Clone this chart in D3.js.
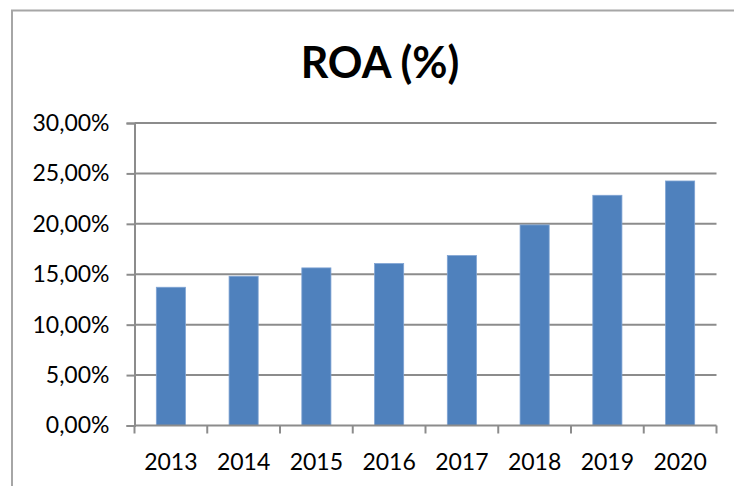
<!DOCTYPE html>
<html>
<head>
<meta charset="utf-8">
<script src="https://cdn.jsdelivr.net/npm/d3@7"></script>
<style>
html,body{margin:0;padding:0;background:#fff;}
svg{display:block;}
</style>
</head>
<body>
<script>
const categories = ["2013","2014","2015","2016","2017","2018","2019","2020"];
const roaValues = [13.71, 14.80, 15.63, 16.06, 16.85, 19.89, 22.83, 24.25];
const yTicks = [0, 5, 10, 15, 20, 25, 30];
const titleText = "ROA (%)";

const W = 734, H = 486;
const margin = {left: 134.5, right: W - 716.5, top: 123, bottom: H - 425.5};
const FONT = "Lato, 'Open Sans', sans-serif";

const svg = d3.select("body").append("svg").attr("width", W).attr("height", H);

// outer frame (extends beyond window on right/bottom)
svg.append("rect").attr("x", 12).attr("y", 10.5).attr("width", W + 20).attr("height", H + 20)
  .attr("fill", "#fff").attr("stroke", "#a6a6a6").attr("stroke-width", 2);

const x = d3.scaleBand().domain(categories).range([margin.left, W - margin.right]).paddingInner(0.6).paddingOuter(0.3);
const y = d3.scaleLinear().domain([0, 30]).range([H - margin.bottom, margin.top]);

// gridlines
svg.append("g").selectAll("line").data(yTicks.filter(d => d > 0)).join("line")
  .attr("x1", margin.left).attr("x2", W - margin.right)
  .attr("y1", d => y(d)).attr("y2", d => y(d))
  .attr("stroke", "#8c8c8c").attr("stroke-width", 2);

// bars
svg.append("g").selectAll("rect").data(categories).join("rect")
  .attr("x", (d) => x(d)).attr("width", x.bandwidth())
  .attr("y", (d, i) => y(roaValues[i]))
  .attr("height", (d, i) => y(0) - y(roaValues[i]))
  .attr("fill", "#4f81bd").attr("stroke", "#7fa3d3").attr("stroke-width", 0.8);

// y axis
const yAxis = d3.axisLeft(y).tickValues(yTicks).tickSize(8).tickPadding(17)
  .tickFormat(d => d3.format(".2f")(d).replace(".", ",") + "%");
const gy = svg.append("g").attr("transform", `translate(${margin.left},0)`).call(yAxis);
gy.select(".domain").attr("stroke", "#8c8c8c").attr("stroke-width", 2);
gy.selectAll(".tick line").attr("stroke", "#8c8c8c").attr("stroke-width", 2);
gy.selectAll(".tick text").attr("font-family", FONT).attr("font-size", 23).attr("fill", "#000");

// x axis with ticks at band boundaries
const xBoundary = d3.scaleLinear().domain([0, categories.length]).range([margin.left, W - margin.right]);
const gx = svg.append("g").attr("transform", `translate(0,${y(0)})`);
gx.append("line").attr("x1", margin.left).attr("x2", W - margin.right).attr("stroke", "#8c8c8c").attr("stroke-width", 2);
gx.selectAll("line.tk").data(d3.range(categories.length + 1)).join("line").attr("class", "tk")
  .attr("x1", d => xBoundary(d)).attr("x2", d => xBoundary(d)).attr("y1", 0).attr("y2", 8)
  .attr("stroke", "#8c8c8c").attr("stroke-width", 2);
gx.selectAll("text").data(categories).join("text")
  .attr("x", d => x(d) + x.bandwidth() / 2).attr("y", 44)
  .attr("text-anchor", "middle").attr("font-family", FONT).attr("font-size", 23).attr("fill", "#000")
  .text(d => d);

// title
svg.append("text").attr("x", 380).attr("y", 78).attr("text-anchor", "middle")
  .attr("font-family", FONT).attr("font-weight", "bold").attr("font-size", 43).attr("fill", "#000")
  .text(titleText);
</script>
</body>
</html>
